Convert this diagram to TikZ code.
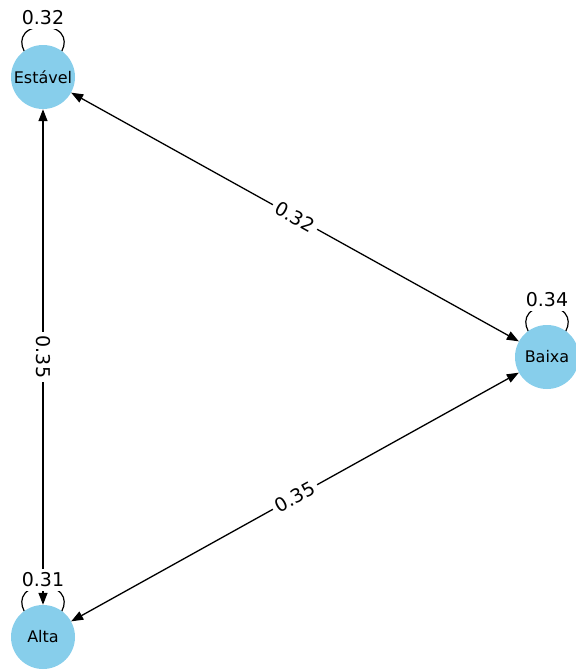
\documentclass[tikz,border=0pt]{standalone}
\usepackage{fontspec}
\setmainfont{DejaVu Sans}
\usetikzlibrary{arrows.meta}
\definecolor{skyb}{HTML}{87CEEB}
\begin{document}
\begin{tikzpicture}[x=1pt,y=-1pt,
  state/.style={circle,fill=skyb,minimum size=64pt,inner sep=0pt,font=\fontsize{16}{18}\selectfont},
  edge/.style={line width=1.3pt,{Triangle[length=12pt,width=9pt]}-{Triangle[length=12pt,width=9pt]}},
  loopline/.style={line width=1.2pt},
  elabel/.style={fill=white,inner sep=4pt,font=\fontsize{19}{21}\selectfont}]
\useasboundingbox (0,0) rectangle (576,670);
% self loops
\foreach \cx/\cy in {43/77, 547/357, 43/637}{
  \draw[loopline] (\cx-16,\cy-22) .. controls (\cx-25,\cy-32) and (\cx-24,\cy-50) .. (\cx,\cy-50)
                  .. controls (\cx+24,\cy-50) and (\cx+25,\cy-32) .. (\cx+16,\cy-22);
}
% nodes
\node[state] (E) at (43,77) {Estável};
\node[state] (B) at (547,357) {Baixa};
\node[state] (A) at (43,637) {Alta};
% edges
\draw[edge] (E) -- (B) node[midway,elabel,sloped] {0.32};
\draw[edge] (A) -- (B) node[midway,elabel,sloped] {0.35};
\draw[edge] (E) -- (A) node[midway,elabel,rotate=-90] {0.35};
% loop labels
\node[elabel] (lE) at (43,18) {0.32};
\node[elabel] (lB) at (547,300) {0.34};
\node[elabel] (lA) at (43,580) {0.31};
\end{tikzpicture}
\end{document}
